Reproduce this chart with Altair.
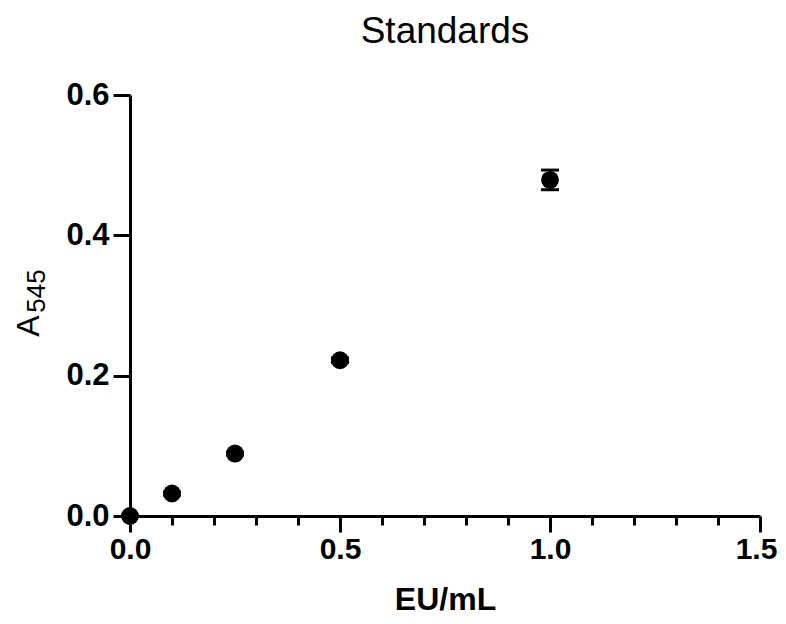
import altair as alt
import pandas as pd

# Data
conc = [0.0, 0.1, 0.25, 0.5, 1.0]          # EU/mL
absorb = [0.0, 0.032, 0.089, 0.222, 0.479]  # A545
err = [0.0, 0.002, 0.002, 0.003, 0.014]     # error (SD)

x_ticks = [0.0, 0.05, 0.1, 0.15, 0.2, 0.25, 0.3, 0.35, 0.4, 0.45,
           0.5, 0.55, 0.6, 0.65, 0.7, 0.75, 0.8, 0.85, 0.9, 0.95,
           1.0, 1.05, 1.1, 1.15, 1.2, 1.25, 1.3, 1.35, 1.4, 1.45, 1.5]
y_ticks = [0.0, 0.2, 0.4, 0.6]

FONT = "Liberation Sans"

df = pd.DataFrame({
    "x": conc,
    "y": absorb,
    "lo": [a - e for a, e in zip(absorb, err)],
    "hi": [a + e for a, e in zip(absorb, err)],
})

major_test = "abs(datum.value * 2 - round(datum.value * 2)) < 0.001"

xscale = alt.Scale(domain=[0, 1.5], nice=False, zero=False)
yscale = alt.Scale(domain=[0, 0.6], nice=False, zero=False)

xaxis = alt.Axis(
    values=x_ticks,
    labelExpr=f"{major_test} ? format(datum.value, '.1f') : ''",
    tickSize={"condition": {"test": major_test, "value": 16}, "value": 9},
    tickWidth=3, tickColor="black",
    domainWidth=3, domainColor="black",
    labelFont=FONT, labelFontSize=30, labelFontWeight="bold", labelColor="black",
    labelPadding=2, labelOverlap=False, labelFlush=False,
    labelOffset={"condition": {"test": "datum.value > 1.49", "value": -4}, "value": 0},
    title="EU/mL", titleFont=FONT, titleFontSize=32, titleFontWeight="bold",
    titleColor="black", titlePadding=20,
    grid=False,
)
yaxis = alt.Axis(
    values=y_ticks, format=".1f",
    tickSize=17, tickWidth=3, tickColor="black",
    domainWidth=3, domainColor="black",
    labelFont=FONT, labelFontSize=31, labelFontWeight="bold", labelColor="black",
    labelPadding=4, labelOverlap=False, labelFlush=False,
    title=None, grid=False,
)

base = alt.Chart(df)

bars = base.mark_rule(color="black", strokeWidth=3).encode(
    x=alt.X("x:Q", scale=xscale, axis=xaxis),
    y=alt.Y("lo:Q", scale=yscale, axis=yaxis),
    y2="hi:Q",
)
caps_hi = base.mark_tick(color="black", orient="horizontal", size=18, thickness=3, opacity=1).encode(
    x="x:Q", y="hi:Q"
)
caps_lo = base.mark_tick(color="black", orient="horizontal", size=18, thickness=3, opacity=1).encode(
    x="x:Q", y="lo:Q"
)
points = base.mark_point(filled=True, shape="circle", size=320, color="black", opacity=1).encode(
    x="x:Q", y="y:Q"
)

ylab_a = alt.Chart(pd.DataFrame({"t": ["A"]})).mark_text(
    font=FONT, fontSize=32, angle=270, align="center", baseline="middle", color="black"
).encode(text="t:N", x=alt.value(-101), y=alt.value(231))
ylab_sub = alt.Chart(pd.DataFrame({"t": ["545"]})).mark_text(
    font=FONT, fontSize=26, angle=270, align="center", baseline="middle", color="black"
).encode(text="t:N", x=alt.value(-93), y=alt.value(196))

chart = alt.layer(bars, caps_hi, caps_lo, points, ylab_a, ylab_sub).properties(
    width=630, height=421,
    title=alt.TitleParams("Standards", font=FONT, fontSize=37, fontWeight="normal",
                          color="black", anchor="middle", offset=28),
    autosize=alt.AutoSizeParams(type="none"),
    padding={"left": 122, "top": 87, "right": 18, "bottom": 100},
).configure_view(stroke=None)

chart.save("out.html", embed_options={"renderer": "svg", "actions": False})
